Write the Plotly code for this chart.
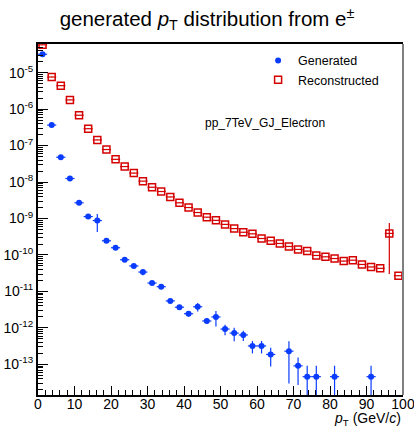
import plotly.graph_objects as go

# bin centres (GeV/c), bin width 2.5
pt_centers = [1.25, 3.75, 6.25, 8.75, 11.25, 13.75, 16.25, 18.75, 21.25, 23.75,
              26.25, 28.75, 31.25, 33.75, 36.25, 38.75, 41.25, 43.75, 46.25, 48.75,
              51.25, 53.75, 56.25, 58.75, 61.25, 63.75, 66.25, 68.75, 71.25, 73.75,
              76.25, 78.75, 81.25, 83.75, 86.25, 88.75, 91.25, 93.75, 96.25, 98.75]
half_bin = [1.25] * 40

generated = [3.2e-5, 3.65e-7, 4.8e-8, 1.25e-8, 2.7e-9, 1.13e-9, 8.8e-10, 2.45e-10, 1.58e-10, 7.4e-11,
             5.0e-11, 3.4e-11, 1.7e-11, 1.35e-11, 5.5e-12, 3.7e-12, 2.45e-12, 3.8e-12, 1.55e-12, 2.0e-12,
             9.3e-13, 7.2e-13, 6.4e-13, 3.2e-13, 3.2e-13, 1.87e-13, None, 2.3e-13, 9.1e-14, 4.6e-14,
             4.6e-14, None, 4.6e-14, None, None, None, 4.6e-14, None, None, None]
generated_err = [1.0e-6, 1.5e-8, 2.5e-9, 8e-10, 2.5e-10, 1.2e-10, 4.5e-10, 3e-11, 2e-11, 8e-12,
                 5e-12, 6e-12, 2e-12, 1.8e-12, 6e-13, 4e-13, 4e-13, 1.0e-12, 2.5e-13, 9e-13,
                 3e-13, 2.9e-13, 2.0e-13, 1.2e-13, 1.2e-13, 1.0e-13, None, 2.0e-13, 6.4e-14, 4.59e-14,
                 4.59e-14, None, 4.59e-14, None, None, None, 4.59e-14, None, None, None]

reconstructed = [5.8e-5, 7.6e-6, 4.4e-6, 1.79e-6, 6.8e-7, 2.9e-7, 1.43e-7, 7.8e-8, 4.2e-8, 2.66e-8,
                 1.76e-8, 1.06e-8, 7.2e-9, 5.5e-9, 3.9e-9, 2.7e-9, 2.0e-9, 1.46e-9, 1.09e-9, 8.9e-10,
                 6.9e-10, 5.3e-10, 4.2e-10, 3.8e-10, 2.83e-10, 2.45e-10, 2.07e-10, 1.71e-10, 1.42e-10, 1.28e-10,
                 9.7e-11, 8.9e-11, 8.0e-11, 6.8e-11, 7.2e-11, 5.5e-11, 4.7e-11, 4.3e-11, 3.9e-10, 2.7e-11]
reconstructed_err = [1.0e-6, 1.2e-7, 7e-8, 3e-8, 1.1e-8, 4.5e-9, 2.2e-9, 1.2e-9, 6.5e-10, 4e-10,
                     2.7e-10, 1.6e-10, 1.1e-10, 8e-11, 6e-11, 4e-11, 3e-11, 2.2e-11, 1.6e-11, 1.3e-11,
                     1.0e-11, 8e-12, 6e-12, 6e-12, 4e-12, 4e-12, 3e-12, 2.5e-12, 2e-12, 2e-12,
                     1.5e-12, 1.3e-12, 1.2e-12, 1e-12, 1.1e-12, 8e-13, 7e-13, 6e-13, 3.6e-10, 4e-13]

y_tick_exps = [-13, -12, -11, -10, -9, -8, -7, -6, -5]
x_ticks = [0, 10, 20, 30, 40, 50, 60, 70, 80, 90, 100]

BLUE = "#0a3cff"
RED = "#d40000"
FONT = "Liberation Sans, Arial, sans-serif"

fig = go.Figure()
fig.add_trace(go.Scatter(
    x=pt_centers, y=generated, mode="markers", name="Generated",
    marker=dict(symbol="circle", size=6, color=BLUE),
    error_y=dict(type="data", array=generated_err, color=BLUE, thickness=1.2, width=0),
    error_x=dict(type="data", array=half_bin, color=BLUE, thickness=1.2, width=0),
))
fig.add_trace(go.Scatter(
    x=pt_centers, y=reconstructed, mode="markers", name="Reconstructed",
    marker=dict(symbol="square-open", size=7, color=RED, line=dict(width=1.5, color=RED)),
    error_y=dict(type="data", array=reconstructed_err, color=RED, thickness=1.2, width=0),
    error_x=dict(type="data", array=half_bin, color=RED, thickness=1.2, width=0),
))

minor_vals = []
for e in range(-14, -3):
    for m in range(2, 10):
        minor_vals.append(m * 10.0 ** e)

fig.update_layout(
    width=414, height=429,
    margin=dict(l=38, r=11, t=44, b=34),
    paper_bgcolor="white", plot_bgcolor="white",
    font=dict(family=FONT, color="black", size=14),
    title=dict(text="generated <i>p</i><sub>T</sub> distribution from e<sup>±</sup>",
               x=0.5, xanchor="center", y=1 - 19 / 429, yanchor="middle", yref="container",
               font=dict(size=20.5, family=FONT, color="black")),
    showlegend=True,
    legend=dict(x=0.603, y=0.995, xanchor="left", yanchor="top",
                bgcolor="rgba(0,0,0,0)", font=dict(size=12.5, family=FONT),
                tracegroupgap=0, itemsizing="trace"),
    xaxis=dict(range=[0, 100], tickmode="array", tickvals=x_ticks, automargin=False,
               ticks="inside", ticklen=9, tickwidth=1, tickcolor="black", ticklabelstandoff=-5,
               ticklabeloverflow="allow",
               minor=dict(dtick=2, tick0=0, ticks="inside", ticklen=5, tickwidth=1, tickcolor="black", showgrid=False),
               showgrid=False, zeroline=False, showline=True, linecolor="black", linewidth=2,
               mirror=True, tickfont=dict(size=14, family=FONT)),
    yaxis=dict(type="log", range=[-13.84, -4.214], tickmode="array", automargin=False,
               tickvals=[10.0 ** e for e in y_tick_exps],
               ticktext=["10<sup>%d</sup>" % e for e in y_tick_exps],
               ticks="inside", ticklen=10, tickwidth=1, tickcolor="black",
               minor=dict(tickmode="array", tickvals=minor_vals, ticks="inside", ticklen=5,
                          tickwidth=1, tickcolor="black", showgrid=False),
               showgrid=False, zeroline=False, showline=True, linecolor="black", linewidth=2,
               mirror=False, tickfont=dict(size=14, family=FONT)),
)

# right frame edge (gray, as in ROOT canvas)
fig.add_shape(type="line", xref="paper", yref="paper", x0=1, x1=1, y0=0, y1=1,
              line=dict(color="#808080", width=2))

fig.add_annotation(text="pp_7TeV_GJ_Electron", xref="paper", yref="paper",
                   x=0.622, y=0.775, xanchor="center", yanchor="middle", showarrow=False,
                   font=dict(size=12, family=FONT))
fig.add_annotation(text="<i>p</i><sub>T</sub> (GeV/<i>c</i>)", xref="paper", yref="paper",
                   x=1.0, y=-0.069, xanchor="right", yanchor="middle", showarrow=False,
                   font=dict(size=14, family=FONT))

fig.write_html("out.html")
